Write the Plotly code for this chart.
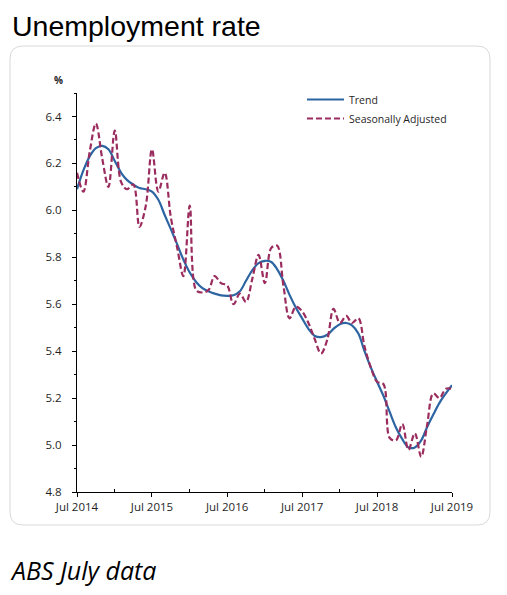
import plotly.graph_objects as go
import pandas as pd

months = pd.date_range("2014-07-01", periods=61, freq="MS")

trend = [6.09, 6.17, 6.23, 6.265, 6.275, 6.26, 6.21, 6.16, 6.13, 6.11,
         6.095, 6.09, 6.08, 6.045, 5.98, 5.92, 5.855, 5.79, 5.735, 5.695,
         5.67, 5.655, 5.645, 5.638, 5.636, 5.638, 5.655, 5.70, 5.745, 5.775,
         5.785, 5.78, 5.75, 5.70, 5.64, 5.585, 5.54, 5.495, 5.465, 5.46,
         5.47, 5.495, 5.515, 5.52, 5.51, 5.475, 5.40, 5.33, 5.27, 5.21,
         5.14, 5.075, 5.025, 4.99, 4.99, 5.02, 5.075, 5.13, 5.18, 5.22, 5.255]

seas_adj = [6.16, 6.08, 6.25, 6.37, 6.22, 6.10, 6.34, 6.12, 6.09, 6.11,
            5.93, 6.02, 6.26, 6.08, 6.16, 5.97, 5.84, 5.72, 6.02, 5.66,
            5.65, 5.66, 5.72, 5.69, 5.68, 5.60, 5.645, 5.61, 5.71, 5.81,
            5.69, 5.84, 5.85, 5.68, 5.54, 5.59, 5.57, 5.52, 5.45, 5.39,
            5.45, 5.58, 5.52, 5.55, 5.52, 5.54, 5.42, 5.33, 5.27, 5.26,
            5.03, 5.02, 5.09, 4.98, 5.05, 4.95, 5.08, 5.22, 5.20, 5.24, 5.24]

x_tick_vals = ["2014-07-01", "2015-07-01", "2016-07-01", "2017-07-01", "2018-07-01", "2019-07-01"]
x_tick_text = ["Jul 2014", "Jul 2015", "Jul 2016", "Jul 2017", "Jul 2018", "Jul 2019"]
x_minor_vals = ["2015-01-01", "2016-01-01", "2017-01-01", "2018-01-01", "2019-01-01"]

# page body margin offsets the figure by 8px; work in screen pixels
OFF = 8
W, H = 507, 595
PW, PH = 375, 399
ML, MT = 77 - OFF, 93 - OFF
MR, MB = W - ML - PW, H - MT - PH

def px(xp, yp):
    return (xp - OFF - ML) / PW, 1 - (yp - OFF - MT) / PH

def rounded_box(l, t, r, b, rad):
    def p(a, c):
        u, v = px(a, c)
        return f"{u:.5f},{v:.5f}"
    return (f"M{p(l + rad, t)} L{p(r - rad, t)} Q{p(r, t)} {p(r, t + rad)} "
            f"L{p(r, b - rad)} Q{p(r, b)} {p(r - rad, b)} "
            f"L{p(l + rad, b)} Q{p(l, b)} {p(l, b - rad)} "
            f"L{p(l, t + rad)} Q{p(l, t)} {p(l + rad, t)} Z")

FONT = "Open Sans"
TXT = "#1f1f1f"

fig = go.Figure()
fig.add_trace(go.Scatter(
    x=months, y=trend, name="Trend", mode="lines",
    line=dict(color="#2d64a2", width=2.2, shape="spline", smoothing=1.0),
))
fig.add_trace(go.Scatter(
    x=months, y=seas_adj, name="Seasonally Adjusted", mode="lines",
    line=dict(color="#9b2c5e", width=2.2, dash="6px,3px", shape="spline", smoothing=1.0),
))

fig.update_layout(
    width=W, height=H,
    margin=dict(l=ML, r=MR, t=MT, b=MB, pad=0),
    paper_bgcolor="white", plot_bgcolor="white",
    font=dict(family=FONT, size=11.5, color=TXT),
    showlegend=True,
    legend=dict(
        x=px(302, 0)[0], y=px(0, 85)[1], xanchor="left", yanchor="top",
        bgcolor="rgba(0,0,0,0)", font=dict(size=10.5, color=TXT, family=FONT),
        itemwidth=37, tracegroupgap=0,
    ),
    xaxis=dict(
        type="date", range=["2014-07-01", "2019-07-01"],
        tickmode="array", tickvals=x_tick_vals, ticktext=x_tick_text,
        ticks="outside", ticklen=4, tickwidth=1, tickcolor="black",
        showline=True, linecolor="black", linewidth=1,
        showgrid=False, zeroline=False,
        tickfont=dict(size=11.5, color=TXT),
        minor=dict(ticks="inside", ticklen=3, tickwidth=1, tickcolor="black",
                   tickmode="array", tickvals=x_minor_vals, showgrid=False),
    ),
    xaxis2=dict(
        type="date", range=["2014-07-01", "2019-07-01"], overlaying="x",
        tickmode="array", tickvals=x_tick_vals, showticklabels=False,
        ticks="inside", ticklen=4, tickwidth=1, tickcolor="black",
        showline=False, showgrid=False, zeroline=False,
    ),
    yaxis=dict(
        range=[4.8, 6.5], tickmode="linear", tick0=4.8, dtick=0.2,
        tickformat=".1f",
        ticks="outside", ticklen=4, tickwidth=1, tickcolor="black",
        showline=True, linecolor="black", linewidth=1,
        showgrid=False, zeroline=False,
        tickfont=dict(size=11.5, color=TXT),
        ticklabelstandoff=8,
        minor=dict(ticks="outside", ticklen=2.5, tickwidth=1, tickcolor="black",
                   tick0=4.8, dtick=0.1, showgrid=False),
    ),
    shapes=[dict(
        type="path", xref="paper", yref="paper",
        path=rounded_box(10, 46, 490, 525, 13),
        line=dict(color="#d9d9d9", width=1), fillcolor="rgba(0,0,0,0)",
        layer="below",
    )],
    annotations=[
        dict(text="Unemployment rate", xref="paper", yref="paper",
             x=px(10, 0)[0], y=px(0, OFF)[1], xanchor="left", yanchor="top",
             showarrow=False, font=dict(size=28.5, color="black", family="Liberation Sans")),
        dict(text="<i>ABS July data</i>", xref="paper", yref="paper",
             x=px(8, 0)[0], y=px(0, 570)[1], xanchor="left", yanchor="middle",
             showarrow=False, font=dict(size=25, color="black", family=FONT)),
        dict(text="<b>%</b>", xref="paper", yref="paper",
             x=px(58, 0)[0], y=px(0, 80)[1], xanchor="center", yanchor="middle",
             showarrow=False, font=dict(size=10, color=TXT, family=FONT)),
    ],
)

fig.write_html("out.html")
